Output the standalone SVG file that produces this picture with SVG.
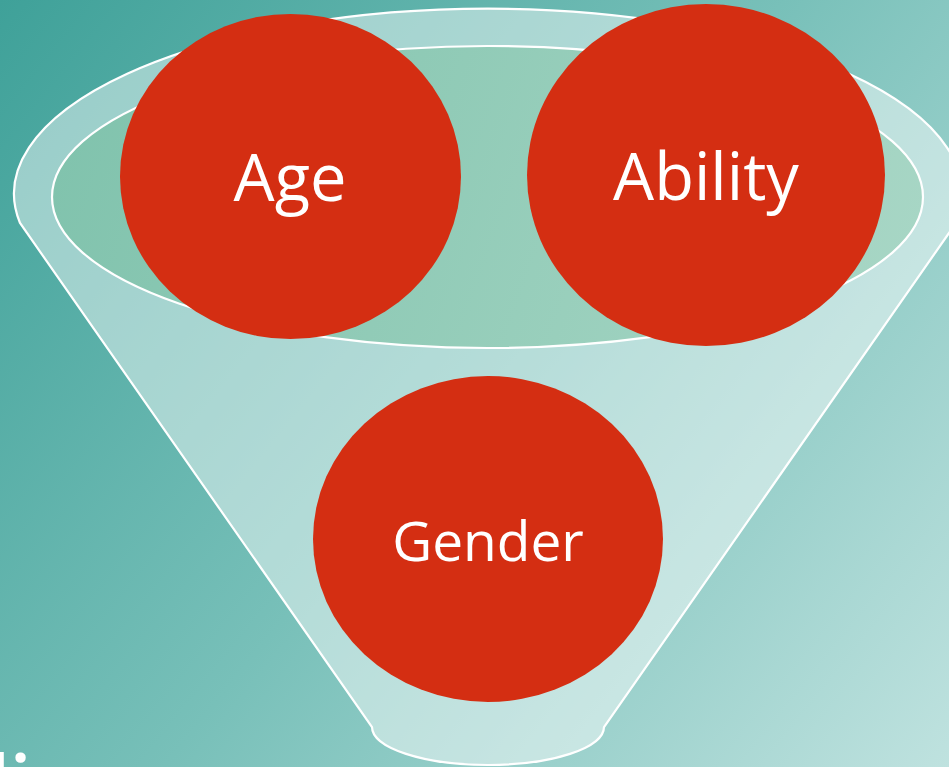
<svg xmlns="http://www.w3.org/2000/svg" width="949" height="767" viewBox="0 0 949 767">
  <defs>
    <linearGradient id="bg" x1="0" y1="0" x2="949" y2="767" gradientUnits="userSpaceOnUse">
      <stop offset="0" stop-color="#3fa199"/>
      <stop offset="0.5" stop-color="#78c0b9"/>
      <stop offset="1" stop-color="#bfe2df"/>
    </linearGradient>
    <linearGradient id="inner" x1="52" y1="46" x2="923" y2="348" gradientUnits="userSpaceOnUse">
      <stop offset="0" stop-color="#7fc2ac"/>
      <stop offset="1" stop-color="#a9d7c6"/>
    </linearGradient>
    <style>
      .rim { stroke: #ffffff; stroke-width: 2.2; }
      .funnel { fill: #ffffff; fill-opacity: 0.45; }
      .ball { fill: #d42e12; }
      .lbl { font-family: "Open Sans", "Noto Sans", sans-serif; fill: #ffffff; text-anchor: middle; }
    </style>
  </defs>
  <rect x="0" y="0" width="949" height="767" fill="url(#bg)"/>

  <g id="funnel">
    <path class="funnel rim" d="M 20 223 A 474 185 0 1 1 956 223 L 604 727 A 116 38 0 0 1 372 727 Z"/>
    <ellipse class="rim" cx="487.5" cy="197" rx="435.5" ry="151" fill="url(#inner)"/>
  </g>

  <g id="connectors"></g>

  <g id="node-age">
    <ellipse class="ball" cx="290.5" cy="176.5" rx="170.5" ry="162.5"/>
    <text class="lbl" x="290" y="201" font-size="65">Age</text>
  </g>
  <g id="node-ability">
    <ellipse class="ball" cx="706" cy="175" rx="179" ry="171"/>
    <text class="lbl" x="706" y="200" font-size="65">Ability</text>
  </g>
  <g id="node-gender">
    <ellipse class="ball" cx="488" cy="539" rx="175" ry="163"/>
    <text class="lbl" x="488" y="561" font-size="55">Gender</text>
  </g>

  <g id="corner-text">
    <text font-family="Open Sans, Noto Sans, sans-serif" font-weight="bold" font-size="60" fill="#ffffff"><tspan x="-31" y="785">u</tspan><tspan x="12" y="786">:</tspan></text>
  </g>
</svg>
